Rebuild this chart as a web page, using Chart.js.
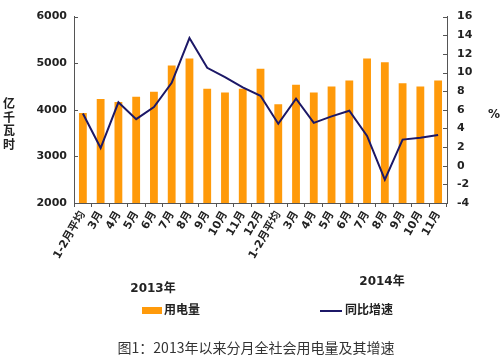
<!DOCTYPE html>
<html lang="zh">
<head>
  <meta charset="UTF-8" />
  <title>全社会用电量及其增速</title>
  <script src="https://cdn.jsdelivr.net/npm/chart.js"></script>
  <style>
    body { margin: 0; background: #fff; }
    #wrap { width: 503px; height: 360px; position: relative; }
  </style>
</head>
<body>
  <div id="wrap"><canvas id="chart"></canvas></div>
  <script>
    const categories = ['1-2月平均', '3月', '4月', '5月', '6月', '7月', '8月', '9月', '10月', '11月', '12月',
                        '1-2月平均', '3月', '4月', '5月', '6月', '7月', '8月', '9月', '10月', '11月'];
    // 用电量, 亿千瓦时
    const usage = [3930, 4230, 4170, 4280, 4390, 4950, 5100, 4450, 4370, 4450, 4880,
                   4120, 4540, 4370, 4500, 4630, 5100, 5020, 4570, 4500, 4630];
    // 同比增速, %
    const growth = [5.6, 1.9, 6.8, 5.0, 6.3, 8.9, 13.7, 10.5, 9.5, 8.4, 7.5,
                    4.5, 7.2, 4.6, 5.3, 5.9, 3.2, -1.5, 2.8, 3.0, 3.3];
    const leftTicks = [2000, 6000, 1000];
    const rightTicks = [-4, 16, 2];
    const yearLabels = ['2013年', '2014年'];

    const ORANGE = '#FF9A0A';
    const NAVY = '#1C1867';
    const AXIS = '#555';
    const numFont = { family: '"DejaVu Sans", sans-serif', size: 11, weight: 'bold' };
    const cjkBold = '"DejaVu Sans", "Noto Sans CJK SC", sans-serif';

    const extras = {
      id: 'extras',
      afterDraw(chart) {
        const ctx = chart.ctx;
        const area = chart.chartArea;
        ctx.save();

        // inward tick marks on both value axes
        ctx.strokeStyle = AXIS;
        ctx.lineWidth = 1;
        chart.scales.y.ticks.forEach(t => {
          const py = Math.round(chart.scales.y.getPixelForValue(t.value)) + 0.5;
          ctx.beginPath(); ctx.moveTo(area.left, py); ctx.lineTo(area.left + 4, py); ctx.stroke();
        });
        chart.scales.y1.ticks.forEach(t => {
          const py = Math.round(chart.scales.y1.getPixelForValue(t.value)) + 0.5;
          ctx.beginPath(); ctx.moveTo(area.right, py); ctx.lineTo(area.right - 4, py); ctx.stroke();
        });

        ctx.fillStyle = '#222';
        ctx.textAlign = 'center';
        ctx.textBaseline = 'middle';

        // vertical unit title
        ctx.font = 'bold 12px ' + cjkBold;
        ['亿', '千', '瓦', '时'].forEach((ch, i) => ctx.fillText(ch, 9, 105 + i * 13.5));
        ctx.fillText('%', 494, 115);

        // year labels
        ctx.fillText(yearLabels[0], 153, 289);
        ctx.fillText(yearLabels[1], 382, 282);

        // legend
        const ds = chart.data.datasets;
        ctx.textAlign = 'left';
        ctx.fillStyle = ds[0].backgroundColor;
        ctx.fillRect(142, 307, 20, 7);
        ctx.fillStyle = '#222';
        ctx.fillText(ds[0].label, 164, 311);
        ctx.strokeStyle = ds[1].borderColor;
        ctx.lineWidth = 2;
        ctx.beginPath(); ctx.moveTo(320, 311); ctx.lineTo(342, 311); ctx.stroke();
        ctx.fillText(ds[1].label, 345, 311);

        // caption
        ctx.textAlign = 'center';
        ctx.fillStyle = '#333';
        ctx.font = '14px "Noto Sans CJK SC", sans-serif';
        ctx.fillText('图1：2013年以来分月全社会用电量及其增速', 256, 348);
        ctx.restore();
      }
    };

    new Chart(document.getElementById('chart'), {
      data: {
        labels: categories,
        datasets: [
          {
            type: 'bar',
            label: '用电量',
            data: usage,
            yAxisID: 'y',
            backgroundColor: ORANGE,
            barPercentage: 0.44,
            categoryPercentage: 1,
            order: 2
          },
          {
            type: 'line',
            label: '同比增速',
            data: growth,
            yAxisID: 'y1',
            borderColor: NAVY,
            backgroundColor: NAVY,
            borderWidth: 2,
            pointRadius: 0,
            tension: 0,
            order: 1
          }
        ]
      },
      options: {
        responsive: true,
        maintainAspectRatio: false,
        animation: false,
        layout: { padding: { top: 9, left: 0, right: 0, bottom: 0 } },
        plugins: { legend: { display: false }, tooltip: { enabled: false } },
        scales: {
          x: {
            offset: true,
            grid: { offset: true, drawOnChartArea: false, tickLength: 4, color: AXIS },
            border: { color: AXIS },
            ticks: {
              autoSkip: false, minRotation: 60, maxRotation: 60, padding: 2,
              color: '#222', font: { family: cjkBold, size: 11, weight: 'bold' }
            },
            afterFit: s => { s.height = 157; }
          },
          y: {
            position: 'left',
            min: leftTicks[0], max: leftTicks[1],
            grid: { display: false, drawTicks: false },
            border: { display: true, color: AXIS },
            ticks: {
              stepSize: leftTicks[2], padding: 7, color: '#222', font: numFont,
              callback: v => String(v)
            },
            afterFit: s => { s.width = 74; }
          },
          y1: {
            position: 'right',
            min: rightTicks[0], max: rightTicks[1],
            grid: { display: false, drawTicks: false },
            border: { display: true, color: AXIS },
            ticks: {
              stepSize: rightTicks[2], padding: 10, color: '#222', font: numFont,
              callback: v => String(v)
            },
            afterFit: s => { s.width = 56; }
          }
        }
      },
      plugins: [extras]
    });
  </script>
</body>
</html>
